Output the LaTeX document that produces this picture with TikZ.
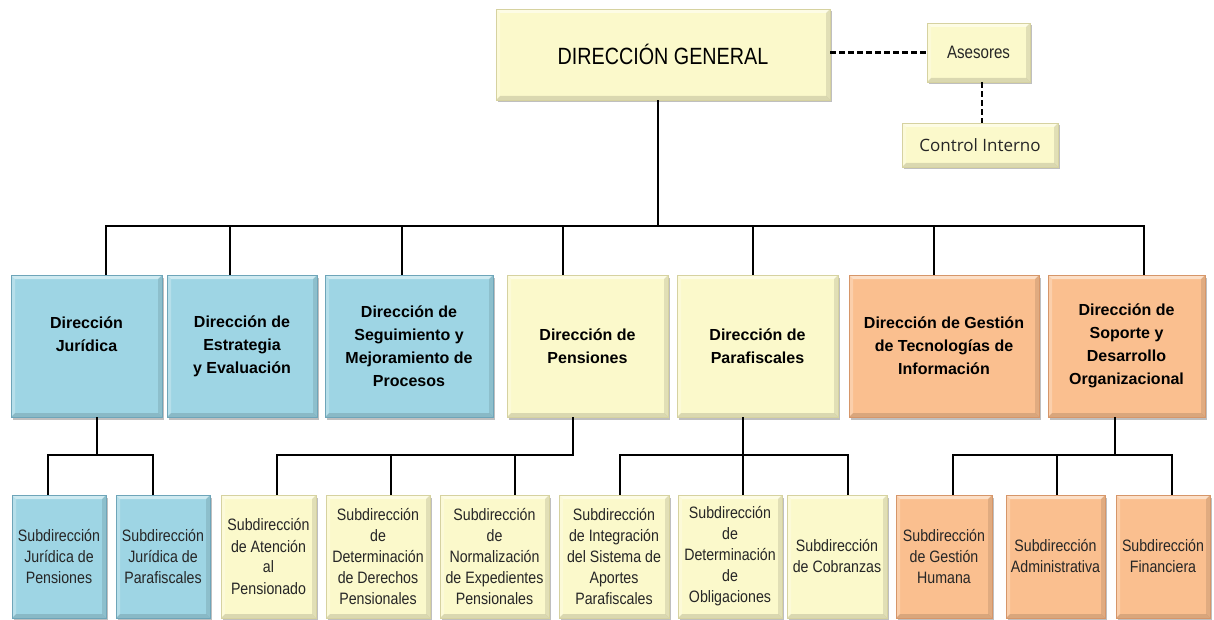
\documentclass[tikz,border=0pt]{standalone}
\usepackage{fontspec}
\setmainfont{Liberation Sans}
\newfontfamily\narrowfont[FakeStretch=0.86]{Liberation Sans}
\newfontfamily\titlefont[FakeStretch=0.84]{Liberation Sans}
\newfontfamily\cifont{Open Sans}
\usetikzlibrary{shadows}

\definecolor{bluefill}{RGB}{158,213,228}
\definecolor{blueedge}{RGB}{110,165,185}
\definecolor{yelfill}{RGB}{251,249,203}
\definecolor{yeledge}{RGB}{214,210,160}
\definecolor{orafill}{RGB}{250,191,143}
\definecolor{oraedge}{RGB}{214,150,105}
\definecolor{txtgray}{RGB}{38,38,38}

\tikzset{
  bevel/.style={path picture={
    \fill[white,opacity=0.5]
      (path picture bounding box.north west) -- (path picture bounding box.north east)
      -- ([shift={(-4pt,-4pt)}]path picture bounding box.north east)
      -- ([shift={(4pt,-4pt)}]path picture bounding box.north west) -- cycle;
    \fill[white,opacity=0.25]
      (path picture bounding box.north west) -- (path picture bounding box.south west)
      -- ([shift={(4pt,4pt)}]path picture bounding box.south west)
      -- ([shift={(4pt,-4pt)}]path picture bounding box.north west) -- cycle;
    \fill[black,opacity=0.1]
      (path picture bounding box.north east) -- (path picture bounding box.south east)
      -- ([shift={(-4pt,4pt)}]path picture bounding box.south east)
      -- ([shift={(-4pt,-4pt)}]path picture bounding box.north east) -- cycle;
    \fill[black,opacity=0.13]
      (path picture bounding box.south west) -- (path picture bounding box.south east)
      -- ([shift={(-4pt,4pt)}]path picture bounding box.south east)
      -- ([shift={(4pt,4pt)}]path picture bounding box.south west) -- cycle;
  }},
  box/.style={rectangle, draw, line width=0.6pt, align=center, inner sep=2pt,
    bevel, drop shadow={shadow xshift=2pt, shadow yshift=-2.5pt, fill=black, opacity=0.25}},
  bluebox/.style={box, fill=bluefill, draw=blueedge},
  yelbox/.style={box, fill=yelfill, draw=yeledge},
  orabox/.style={box, fill=orafill, draw=oraedge},
  dirbox/.style={minimum height=142, font=\bfseries\fontsize{16}{23}\selectfont, text=black},
  subbox/.style={minimum height=123, font=\narrowfont\fontsize{16.5}{21}\selectfont, text=txtgray},
  conn/.style={line width=2.4pt, black},
  dconn/.style={line width=2.4pt, black, dash pattern=on 6pt off 3pt},
}

\begin{document}
\begin{tikzpicture}[x=1pt,y=-1pt]
\useasboundingbox (0,0) rectangle (1214,620);

% bus levels
\coordinate (busA) at (0,226);
\coordinate (busB) at (0,455);

% top level
\node[yelbox, minimum width=334, minimum height=91, font=\titlefont\fontsize{23.5}{27}\selectfont, text=black]
  (dg) at (663,54.5) {DIRECCIÓN GENERAL};
\node[yelbox, minimum width=103, minimum height=59, font=\titlefont\fontsize{18}{20}\selectfont, text=txtgray]
  (ase) at (978.5,52.5) {Asesores};
\node[yelbox, minimum width=156, minimum height=44, font=\cifont\fontsize{17}{20}\selectfont, text=txtgray]
  (cin) at (980,145) {Control Interno};

% directions
\node[bluebox, dirbox, minimum width=151] (jur) at (86.5,346) {Dirección\\Jurídica\\\mbox{}};
\node[bluebox, dirbox, minimum width=150] (est) at (242,346) {Dirección de\\Estrategia\\y Evaluación};
\node[bluebox, dirbox, minimum width=168] (seg) at (409,346) {Dirección de\\Seguimiento y\\Mejoramiento de\\Procesos};
\node[yelbox, dirbox, minimum width=161] (pen) at (587.5,346) {Dirección de\\Pensiones};
\node[yelbox, dirbox, minimum width=161] (par) at (757.5,346) {Dirección de\\Parafiscales};
\node[orabox, dirbox, minimum width=190] (gti) at (944,346) {Dirección de Gestión\\de Tecnologías de\\Información};
\node[orabox, dirbox, minimum width=157] (sop) at (1126.5,346) {Dirección de\\Soporte y\\Desarrollo\\Organizacional};

% sub-directions
\node[bluebox, subbox, minimum width=94] (sjp) at (59,556.5) {Subdirección\\Jurídica de\\Pensiones};
\node[bluebox, subbox, minimum width=94] (sjf) at (163,556.5) {Subdirección\\Jurídica de\\Parafiscales};
\node[yelbox, subbox, minimum width=95] (sat) at (268.5,556.5) {Subdirección\\de Atención\\al\\Pensionado};
\node[yelbox, subbox, minimum width=104] (sdd) at (378,556.5) {Subdirección\\de\\Determinación\\de Derechos\\Pensionales};
\node[yelbox, subbox, minimum width=109] (sne) at (494.5,556.5) {Subdirección\\de\\Normalización\\de Expedientes\\Pensionales};
\node[yelbox, subbox, minimum width=110] (sis) at (614,556.5) {Subdirección\\de Integración\\del Sistema de\\Aportes\\Parafiscales};
\node[yelbox, subbox, minimum width=104] (sdo) at (730,556.5) {Subdirección\\de\\Determinación\\de\\Obligaciones};
\node[yelbox, subbox, minimum width=100] (sco) at (837,556.5) {Subdirección\\de Cobranzas};
\node[orabox, subbox, minimum width=96] (sgh) at (944,556.5) {Subdirección\\de Gestión\\Humana};
\node[orabox, subbox, minimum width=99] (sad) at (1055.5,556.5) {Subdirección\\Administrativa};
\node[orabox, subbox, minimum width=94] (sfi) at (1163,556.5) {Subdirección\\Financiera};

% staff links
\draw[dconn] (dg.east |- ase.west) -- (ase.west);
\draw[dconn] ([xshift=3.5pt]ase.south) -- ([xshift=3.5pt]ase.south |- cin.north);

% general direction to directions
\draw[conn] ([xshift=-5pt]dg.south) -- ([xshift=-5pt]dg.south |- busA);
\draw[conn] ([xshift=19.5pt]jur.north) -- ([xshift=19.5pt]jur.north |- busA)
  -- ([xshift=17.5pt]sop.north |- busA) -- ([xshift=17.5pt]sop.north);
\draw[conn] ([xshift=-12pt]est.north) -- ([xshift=-12pt]est.north |- busA);
\draw[conn] ([xshift=-7pt]seg.north) -- ([xshift=-7pt]seg.north |- busA);
\draw[conn] ([xshift=-24.5pt]pen.north) -- ([xshift=-24.5pt]pen.north |- busA);
\draw[conn] ([xshift=-4.5pt]par.north) -- ([xshift=-4.5pt]par.north |- busA);
\draw[conn] ([xshift=-10pt]gti.north) -- ([xshift=-10pt]gti.north |- busA);

% Jurídica
\draw[conn] ([xshift=10.5pt]jur.south) -- ([xshift=10.5pt]jur.south |- busB);
\draw[conn] ([xshift=-11pt]sjp.north) -- ([xshift=-11pt]sjp.north |- busB)
  -- ([xshift=-10pt]sjf.north |- busB) -- ([xshift=-10pt]sjf.north);

% Pensiones
\draw[conn] ([xshift=8.5pt]sat.north) -- ([xshift=8.5pt]sat.north |- busB)
  -- ([xshift=-14.5pt]pen.south |- busB) -- ([xshift=-14.5pt]pen.south);
\draw[conn] ([xshift=13pt]sdd.north) -- ([xshift=13pt]sdd.north |- busB);
\draw[conn] ([xshift=20.5pt]sne.north) -- ([xshift=20.5pt]sne.north |- busB);

% Parafiscales
\draw[conn] ([xshift=-14.5pt]par.south) -- ([xshift=-14.5pt]par.south |- busB);
\draw[conn] ([xshift=6pt]sis.north) -- ([xshift=6pt]sis.north |- busB)
  -- ([xshift=11pt]sco.north |- busB) -- ([xshift=11pt]sco.north);
\draw[conn] ([xshift=13pt]sdo.north) -- ([xshift=13pt]sdo.north |- busB);

% Soporte
\draw[conn] ([xshift=-11.5pt]sop.south) -- ([xshift=-11.5pt]sop.south |- busB);
\draw[conn] ([xshift=9pt]sgh.north) -- ([xshift=9pt]sgh.north |- busB)
  -- ([xshift=9pt]sfi.north |- busB) -- ([xshift=9pt]sfi.north);
\draw[conn] ([xshift=1.5pt]sad.north) -- ([xshift=1.5pt]sad.north |- busB);
\end{tikzpicture}
\end{document}
